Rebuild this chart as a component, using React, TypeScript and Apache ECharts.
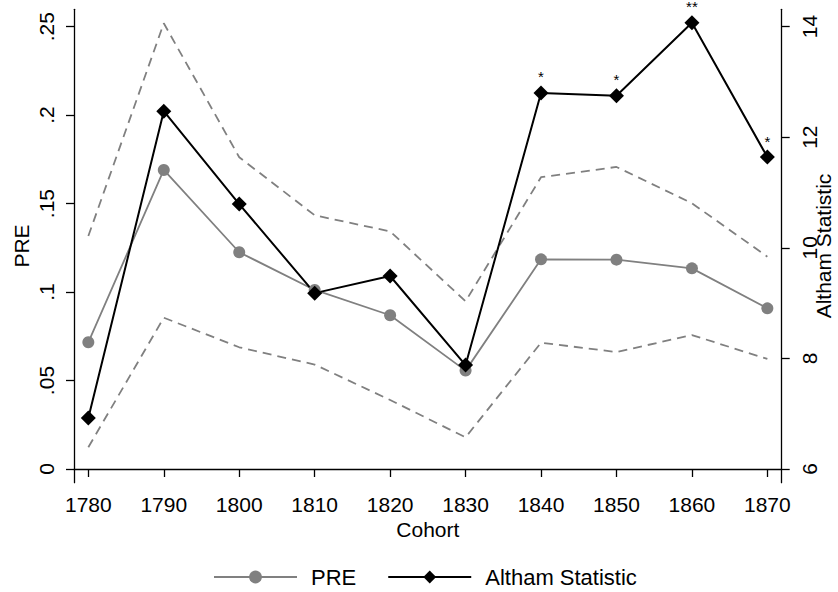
import React, { useEffect, useRef } from "react";
import * as echarts from "echarts";

const cohorts = [1780, 1790, 1800, 1810, 1820, 1830, 1840, 1850, 1860, 1870];
const pre = [0.0716, 0.169, 0.1225, 0.1012, 0.0869, 0.0556, 0.1185, 0.1183, 0.1134, 0.0908];
const preUpper = [0.1317, 0.2519, 0.1762, 0.1434, 0.1343, 0.0948, 0.1649, 0.1707, 0.1502, 0.12];
const preLower = [0.0123, 0.0855, 0.0688, 0.059, 0.039, 0.0179, 0.0714, 0.0661, 0.0757, 0.0622];
const altham = [6.92, 12.47, 10.79, 9.18, 9.49, 7.88, 12.8, 12.75, 14.07, 11.64];
const stars = ["", "", "", "", "", "", "*", "*", "**", "*"];

const leftTicks = [0, 0.05, 0.1, 0.15, 0.2, 0.25];
const leftTickLabels = ["0", ".05", ".1", ".15", ".2", ".25"];
const rightTicks = [6, 8, 10, 12, 14];
const rightTickLabels = ["6", "8", "10", "12", "14"];

const FONT = "'Liberation Sans', Arial, sans-serif";
const GRAY = "#808080";

export default function App() {
  const ref = useRef<HTMLDivElement>(null);
  useEffect(() => {
    if (!ref.current) return;
    const chart = echarts.init(ref.current, null, { renderer: "svg" });
    const axisLine = { show: true, lineStyle: { color: "#000", width: 1.3 } };
    const axisTick = { show: true, length: 8, lineStyle: { color: "#000", width: 1.3 } };
    chart.setOption({
      animation: false,
      backgroundColor: "#fff",
      textStyle: { fontFamily: FONT },
      grid: { left: 74, right: 56.3, top: 9.3, bottom: 109.3, containLabel: false, outerBoundsMode: "none" },
      legend: {
        data: ["PRE", "Altham Statistic"],
        left: 208,
        top: 561,
        itemWidth: 83,
        itemHeight: 16,
        itemGap: 31,
        textStyle: { fontSize: 22, color: "#000", fontFamily: FONT, padding: [0, 0, 0, 9] },
      },
      xAxis: {
        type: "value",
        min: 1778.1,
        max: 1871.9,
        name: "Cohort",
        nameLocation: "middle",
        nameGap: 36,
        nameMoveOverlap: false,
        nameTextStyle: { fontSize: 21, color: "#000", fontFamily: FONT },
        axisLine,
        axisTick: { ...axisTick, customValues: cohorts },
        axisLabel: {
          customValues: cohorts,
          fontSize: 21,
          color: "#000",
          margin: 11,
          fontFamily: FONT,
          formatter: (v: number) => String(v),
        },
        splitLine: { show: false },
      },
      yAxis: [
        {
          type: "value",
          position: "left",
          min: -0.00774,
          max: 0.2598,
          name: "PRE",
          nameLocation: "middle",
          nameRotate: 90,
          nameGap: 42,
          nameMoveOverlap: false,
          nameTextStyle: { fontSize: 21, color: "#000", fontFamily: FONT },
          axisLine,
          axisTick: { ...axisTick, customValues: leftTicks },
          axisLabel: {
            customValues: leftTicks,
            rotate: 90,
            fontSize: 21,
            color: "#000",
            margin: 17,
            fontFamily: FONT,
            formatter: (v: number) => {
              const i = leftTicks.findIndex((t) => Math.abs(t - v) < 1e-9);
              return i >= 0 ? leftTickLabels[i] : "";
            },
          },
          splitLine: { show: false },
        },
        {
          type: "value",
          position: "right",
          min: 5.752,
          max: 14.313,
          name: "Altham Statistic",
          nameLocation: "middle",
          nameRotate: 90,
          nameGap: 31,
          nameMoveOverlap: false,
          nameTextStyle: { fontSize: 21, color: "#000", fontFamily: FONT },
          axisLine,
          axisTick: { ...axisTick, customValues: rightTicks },
          axisLabel: {
            customValues: rightTicks,
            rotate: 90,
            fontSize: 21,
            color: "#000",
            margin: 17,
            fontFamily: FONT,
            formatter: (v: number) => {
              const i = rightTicks.findIndex((t) => Math.abs(t - v) < 1e-9);
              return i >= 0 ? rightTickLabels[i] : "";
            },
          },
          splitLine: { show: false },
        },
      ],
      series: [
        {
          name: "upper",
          type: "line",
          yAxisIndex: 0,
          symbol: "none",
          silent: true,
          data: cohorts.map((c, i) => [c, preUpper[i]]),
          lineStyle: { color: GRAY, width: 1.8, type: [9, 6] },
          itemStyle: { color: GRAY },
        },
        {
          name: "lower",
          type: "line",
          yAxisIndex: 0,
          symbol: "none",
          silent: true,
          data: cohorts.map((c, i) => [c, preLower[i]]),
          lineStyle: { color: GRAY, width: 1.8, type: [9, 6] },
          itemStyle: { color: GRAY },
        },
        {
          name: "PRE",
          type: "line",
          yAxisIndex: 0,
          symbol: "circle",
          symbolSize: 12,
          data: cohorts.map((c, i) => [c, pre[i]]),
          lineStyle: { color: GRAY, width: 1.8 },
          itemStyle: { color: GRAY },
        },
        {
          name: "Altham Statistic",
          type: "line",
          yAxisIndex: 1,
          symbol: "diamond",
          symbolSize: 15,
          data: cohorts.map((c, i) => [c, altham[i]]),
          lineStyle: { color: "#000", width: 2 },
          itemStyle: { color: "#000" },
          label: {
            show: true,
            position: "top",
            distance: 1,
            fontSize: 15,
            color: "#000",
            fontFamily: FONT,
            formatter: (p: any) => stars[p.dataIndex],
          },
        },
      ],
    });
    return () => chart.dispose();
  }, []);
  return (
    <div
      ref={ref}
      style={{ position: "fixed", left: 0, top: 0, width: 838, height: 592, background: "#fff" }}
    />
  );
}
